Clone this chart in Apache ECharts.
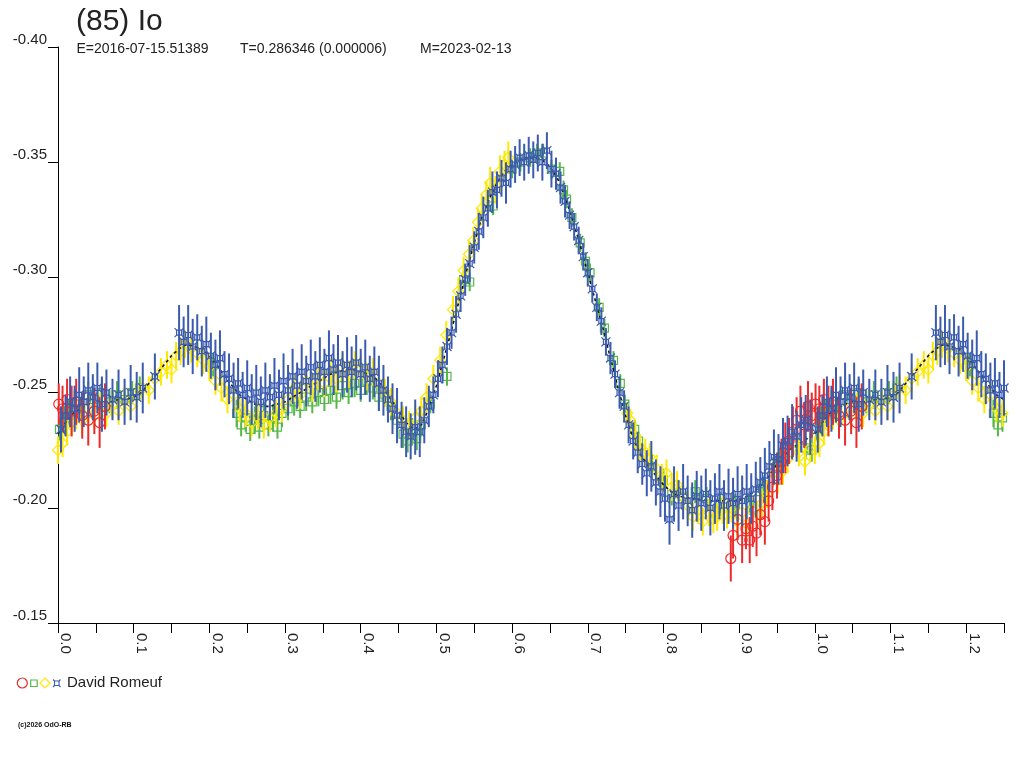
<!DOCTYPE html>
<html>
<head>
<meta charset="utf-8">
<script src="https://cdn.jsdelivr.net/npm/echarts@6/dist/echarts.min.js"></script>
<style>
html,body{margin:0;padding:0;background:#fff;}
#chart{width:1024px;height:768px;}
</style>
</head>
<body>
<div id="chart"></div>
<script>
// ---- data (phase, reduced magnitude, error) ----
const titleText = '(85) Io';
const epochText = 'E=2016-07-15.51389';
const periodText = 'T=0.286346 (0.000006)';
const modelText = 'M=2023-02-13';
const observerName = 'David Romeuf';
const copyrightText = '(c)2026 OdO-RB';

const xTicks = [0.0,0.1,0.2,0.3,0.4,0.5,0.6,0.7,0.8,0.9,1.0,1.1,1.2];
const yTicks = [-0.40,-0.35,-0.30,-0.25,-0.20,-0.15];

const fitPhase = [0.00,0.01,0.02,0.03,0.04,0.05,0.06,0.07,0.08,0.09,0.10,0.11,0.12,0.13,0.14,0.15,0.16,0.17,0.18,0.19,0.20,0.21,0.22,0.23,0.24,0.25,0.26,0.27,0.28,0.29,0.30,0.31,0.32,0.33,0.34,0.35,0.36,0.37,0.38,0.39,0.40,0.41,0.42,0.43,0.44,0.45,0.46,0.47,0.48,0.49,0.50,0.51,0.52,0.53,0.54,0.55,0.56,0.57,0.58,0.59,0.60,0.61,0.62,0.63,0.64,0.65,0.66,0.67,0.68,0.69,0.70,0.71,0.72,0.73,0.74,0.75,0.76,0.77,0.78,0.79,0.80,0.81,0.82,0.84,0.86,0.88,0.90,0.91,0.92,0.93,0.94,0.95,0.96,0.97,0.98,0.99,1.00];
const fitMag = [-0.232,-0.237,-0.241,-0.243,-0.245,-0.246,-0.246,-0.246,-0.247,-0.247,-0.248,-0.250,-0.254,-0.258,-0.262,-0.266,-0.269,-0.271,-0.270,-0.269,-0.266,-0.262,-0.257,-0.253,-0.249,-0.247,-0.245,-0.244,-0.244,-0.245,-0.246,-0.248,-0.250,-0.252,-0.254,-0.256,-0.258,-0.259,-0.260,-0.260,-0.259,-0.258,-0.256,-0.252,-0.247,-0.242,-0.237,-0.234,-0.236,-0.243,-0.253,-0.265,-0.277,-0.290,-0.303,-0.315,-0.326,-0.334,-0.341,-0.346,-0.349,-0.351,-0.352,-0.352,-0.351,-0.348,-0.343,-0.335,-0.325,-0.314,-0.302,-0.290,-0.278,-0.265,-0.252,-0.240,-0.230,-0.223,-0.218,-0.214,-0.210,-0.207,-0.205,-0.204,-0.203,-0.203,-0.203,-0.205,-0.207,-0.210,-0.214,-0.219,-0.223,-0.226,-0.228,-0.230,-0.232];

const redObs = [
[0.001,-0.245,0.009],[0.006,-0.243,0.010],[0.012,-0.247,0.009],[0.018,-0.242,0.011],[0.024,-0.246,0.010],
[0.032,-0.240,0.010],[0.040,-0.238,0.011],[0.048,-0.242,0.010],[0.055,-0.237,0.011],[0.062,-0.244,0.010],
[0.889,-0.178,0.010],[0.892,-0.188,0.010],[0.898,-0.195,0.009],[0.904,-0.186,0.010],[0.909,-0.191,0.009],
[0.914,-0.186,0.010],[0.918,-0.192,0.009],[0.923,-0.189,0.010],[0.928,-0.197,0.009],[0.934,-0.194,0.010],
[0.939,-0.203,0.009],[0.944,-0.209,0.010],[0.950,-0.214,0.010],[0.956,-0.220,0.010],[0.961,-0.226,0.011],
[0.966,-0.229,0.010],[0.971,-0.233,0.011],[0.976,-0.238,0.010],[0.981,-0.242,0.011],[0.986,-0.236,0.010],
[0.991,-0.244,0.011],[0.996,-0.240,0.010]
];

const greenObs = [
[0.002,-0.234,0.005],[0.008,-0.238,0.006],[0.014,-0.242,0.005],[0.022,-0.245,0.006],[0.030,-0.243,0.005],
[0.040,-0.249,0.006],[0.048,-0.247,0.005],[0.058,-0.250,0.006],[0.068,-0.246,0.005],[0.078,-0.249,0.006],
[0.088,-0.247,0.005],[0.098,-0.250,0.005],[0.108,-0.252,0.005],[0.205,-0.262,0.005],
[0.236,-0.241,0.006],[0.242,-0.236,0.005],[0.248,-0.239,0.006],[0.254,-0.234,0.005],[0.260,-0.238,0.006],
[0.266,-0.235,0.005],[0.272,-0.240,0.006],[0.278,-0.236,0.005],[0.284,-0.239,0.006],[0.290,-0.235,0.005],
[0.296,-0.241,0.006],[0.304,-0.243,0.005],[0.312,-0.246,0.006],[0.320,-0.244,0.005],[0.328,-0.248,0.006],
[0.336,-0.246,0.005],[0.344,-0.250,0.006],[0.352,-0.247,0.005],[0.360,-0.251,0.006],[0.368,-0.248,0.005],
[0.376,-0.253,0.006],[0.384,-0.250,0.005],[0.392,-0.254,0.006],[0.400,-0.251,0.005],[0.408,-0.255,0.006],
[0.416,-0.252,0.005],[0.424,-0.248,0.006],[0.432,-0.249,0.005],[0.440,-0.244,0.006],[0.448,-0.238,0.005],
[0.456,-0.232,0.006],[0.462,-0.229,0.005],[0.468,-0.233,0.006],[0.474,-0.230,0.005],[0.480,-0.236,0.005],
[0.492,-0.245,0.004],[0.514,-0.257,0.004],[0.536,-0.299,0.004],[0.544,-0.298,0.004],[0.575,-0.331,0.004],
[0.600,-0.347,0.004],[0.611,-0.350,0.004],[0.624,-0.352,0.004],[0.633,-0.354,0.004],[0.641,-0.354,0.004],
[0.652,-0.347,0.004],[0.663,-0.346,0.004],[0.668,-0.338,0.004],[0.672,-0.334,0.004],[0.679,-0.326,0.004],
[0.690,-0.315,0.004],[0.697,-0.307,0.004],[0.703,-0.302,0.004],[0.715,-0.287,0.004],[0.722,-0.278,0.004],
[0.734,-0.264,0.004],[0.743,-0.254,0.004],[0.749,-0.245,0.004],[0.762,-0.234,0.004],[0.767,-0.229,0.004],
[0.785,-0.218,0.005],[0.800,-0.212,0.005],[0.811,-0.206,0.005],[0.826,-0.205,0.005],[0.842,-0.207,0.005],
[0.857,-0.204,0.005],[0.875,-0.202,0.005],[0.895,-0.201,0.005],[0.914,-0.202,0.005],[0.928,-0.207,0.005],
[0.932,-0.209,0.005],[0.945,-0.217,0.005],[0.954,-0.220,0.005],[0.966,-0.224,0.005],[0.977,-0.228,0.005],
[0.988,-0.226,0.005],[0.996,-0.225,0.005]
];

const yellowObs = [
[0.000,-0.225,0.006],[0.006,-0.228,0.006],[0.012,-0.233,0.006],[0.018,-0.237,0.006],[0.024,-0.240,0.006],
[0.032,-0.238,0.006],[0.040,-0.243,0.006],[0.048,-0.240,0.006],[0.056,-0.244,0.006],[0.064,-0.241,0.006],
[0.072,-0.245,0.006],[0.080,-0.242,0.006],[0.088,-0.246,0.006],[0.096,-0.244,0.006],[0.104,-0.249,0.006],
[0.112,-0.252,0.006],[0.120,-0.251,0.006],[0.128,-0.256,0.006],[0.136,-0.259,0.006],[0.144,-0.262,0.006],
[0.150,-0.260,0.006],[0.156,-0.266,0.006],[0.162,-0.268,0.006],[0.168,-0.271,0.006],[0.176,-0.269,0.006],
[0.184,-0.267,0.006],[0.192,-0.264,0.006],[0.200,-0.261,0.006],[0.208,-0.255,0.006],[0.216,-0.252,0.006],
[0.224,-0.247,0.006],[0.232,-0.249,0.006],[0.240,-0.243,0.006],[0.248,-0.241,0.006],[0.256,-0.237,0.006],
[0.264,-0.240,0.006],[0.272,-0.236,0.006],[0.280,-0.239,0.006],[0.288,-0.241,0.006],[0.296,-0.243,0.006],
[0.304,-0.247,0.006],[0.312,-0.252,0.006],[0.320,-0.249,0.006],[0.328,-0.255,0.006],[0.336,-0.252,0.006],
[0.344,-0.257,0.006],[0.352,-0.254,0.006],[0.360,-0.259,0.006],[0.368,-0.256,0.006],[0.376,-0.261,0.006],
[0.384,-0.258,0.006],[0.392,-0.262,0.006],[0.400,-0.260,0.006],[0.408,-0.257,0.006],[0.416,-0.259,0.006],
[0.424,-0.254,0.006],[0.432,-0.250,0.006],[0.440,-0.246,0.006],[0.448,-0.241,0.006],[0.456,-0.238,0.006],
[0.464,-0.236,0.006],[0.472,-0.239,0.006],[0.480,-0.242,0.006],[0.487,-0.248,0.006],[0.496,-0.256,0.006],
[0.505,-0.264,0.006],[0.513,-0.275,0.006],[0.522,-0.286,0.006],[0.529,-0.294,0.006],[0.536,-0.303,0.006],
[0.543,-0.310,0.006],[0.549,-0.316,0.006],[0.555,-0.324,0.006],[0.560,-0.330,0.006],[0.566,-0.336,0.006],
[0.571,-0.341,0.007],[0.578,-0.338,0.006],[0.584,-0.346,0.007],[0.590,-0.349,0.006],[0.595,-0.352,0.007],
[0.752,-0.241,0.005],[0.756,-0.238,0.005],[0.763,-0.231,0.006],[0.769,-0.226,0.006],[0.776,-0.224,0.006],
[0.782,-0.222,0.006],[0.791,-0.217,0.006],[0.798,-0.213,0.006],[0.804,-0.215,0.006],[0.811,-0.209,0.006],
[0.818,-0.210,0.006],[0.825,-0.205,0.006],[0.832,-0.201,0.006],[0.839,-0.196,0.006],[0.846,-0.199,0.006],
[0.852,-0.194,0.006],[0.860,-0.198,0.006],[0.866,-0.195,0.006],[0.871,-0.196,0.006],[0.878,-0.199,0.006],
[0.884,-0.197,0.006],[0.890,-0.200,0.006],[0.897,-0.194,0.006],[0.904,-0.198,0.006],[0.910,-0.193,0.006],
[0.917,-0.199,0.006],[0.924,-0.197,0.006],[0.930,-0.202,0.006],[0.937,-0.206,0.006],[0.945,-0.215,0.006],
[0.951,-0.212,0.006],[0.958,-0.216,0.006],[0.964,-0.221,0.006],[0.971,-0.228,0.006],[0.979,-0.224,0.006],
[0.987,-0.220,0.006],[0.994,-0.226,0.006]
];

const blueObs = [
[0.004,-0.234,0.010],[0.010,-0.240,0.009],[0.016,-0.246,0.011],[0.022,-0.243,0.010],[0.028,-0.249,0.012],
[0.034,-0.246,0.011],[0.040,-0.251,0.012],[0.046,-0.248,0.010],[0.052,-0.252,0.011],[0.058,-0.245,0.012],
[0.064,-0.250,0.010],[0.072,-0.247,0.009],[0.080,-0.249,0.011],[0.088,-0.246,0.010],[0.096,-0.250,0.012],
[0.104,-0.248,0.011],[0.112,-0.252,0.011],[0.128,-0.257,0.010],[0.160,-0.276,0.012],[0.166,-0.272,0.011],
[0.172,-0.275,0.013],[0.178,-0.270,0.012],[0.184,-0.274,0.010],[0.190,-0.268,0.011],[0.196,-0.271,0.012],
[0.202,-0.266,0.010],[0.208,-0.262,0.011],[0.214,-0.265,0.012],[0.220,-0.258,0.010],[0.226,-0.256,0.011],
[0.232,-0.251,0.012],[0.238,-0.254,0.011],[0.244,-0.249,0.010],[0.250,-0.252,0.012],[0.256,-0.247,0.011],
[0.262,-0.250,0.012],[0.268,-0.246,0.011],[0.274,-0.251,0.012],[0.280,-0.248,0.010],[0.286,-0.253,0.012],
[0.292,-0.249,0.011],[0.298,-0.255,0.012],[0.304,-0.251,0.011],[0.310,-0.257,0.012],[0.316,-0.253,0.010],
[0.322,-0.259,0.012],[0.328,-0.255,0.011],[0.334,-0.261,0.012],[0.340,-0.257,0.011],[0.346,-0.262,0.012],
[0.352,-0.259,0.010],[0.358,-0.265,0.012],[0.364,-0.260,0.011],[0.370,-0.263,0.012],[0.376,-0.258,0.010],
[0.382,-0.262,0.012],[0.388,-0.259,0.011],[0.394,-0.263,0.012],[0.400,-0.258,0.011],[0.406,-0.261,0.012],
[0.412,-0.256,0.010],[0.418,-0.259,0.011],[0.424,-0.254,0.012],[0.430,-0.251,0.011],[0.436,-0.247,0.010],
[0.442,-0.243,0.011],[0.448,-0.240,0.012],[0.454,-0.236,0.010],[0.460,-0.233,0.011],[0.466,-0.231,0.010],
[0.472,-0.235,0.012],[0.478,-0.233,0.011],[0.484,-0.238,0.010],[0.490,-0.244,0.009],[0.496,-0.249,0.008],
[0.502,-0.256,0.008],[0.508,-0.262,0.008],[0.514,-0.270,0.008],[0.520,-0.276,0.007],[0.526,-0.284,0.008],
[0.532,-0.292,0.007],[0.538,-0.299,0.007],[0.544,-0.306,0.008],[0.550,-0.313,0.007],[0.556,-0.320,0.008],
[0.562,-0.326,0.009],[0.568,-0.330,0.008],[0.574,-0.337,0.009],[0.580,-0.338,0.008],[0.586,-0.343,0.008],
[0.592,-0.341,0.009],[0.598,-0.347,0.008],[0.604,-0.349,0.008],[0.610,-0.352,0.008],[0.616,-0.350,0.008],
[0.622,-0.353,0.008],[0.628,-0.351,0.008],[0.634,-0.354,0.008],[0.640,-0.350,0.008],[0.646,-0.355,0.008],
[0.652,-0.347,0.008],[0.658,-0.345,0.007],[0.664,-0.339,0.007],[0.670,-0.333,0.007],[0.676,-0.327,0.006],
[0.682,-0.322,0.006],[0.688,-0.316,0.006],[0.694,-0.309,0.006],[0.700,-0.302,0.006],[0.706,-0.295,0.006],
[0.712,-0.287,0.006],[0.718,-0.281,0.006],[0.724,-0.272,0.006],[0.730,-0.265,0.007],[0.736,-0.258,0.006],
[0.742,-0.250,0.007],[0.748,-0.244,0.007],[0.754,-0.236,0.008],[0.760,-0.229,0.008],[0.766,-0.224,0.009],
[0.772,-0.219,0.009],[0.778,-0.215,0.010],[0.784,-0.218,0.011],[0.790,-0.211,0.010],[0.796,-0.207,0.011],
[0.802,-0.204,0.010],[0.808,-0.195,0.011],[0.814,-0.206,0.012],[0.820,-0.201,0.011],[0.826,-0.207,0.012],
[0.832,-0.203,0.011],[0.838,-0.199,0.012],[0.844,-0.205,0.011],[0.850,-0.202,0.012],[0.856,-0.206,0.011],
[0.862,-0.200,0.012],[0.868,-0.204,0.011],[0.874,-0.207,0.012],[0.880,-0.201,0.011],[0.886,-0.205,0.012],
[0.892,-0.202,0.011],[0.898,-0.206,0.012],[0.904,-0.203,0.011],[0.910,-0.207,0.012],[0.916,-0.204,0.011],
[0.922,-0.208,0.012],[0.928,-0.211,0.011],[0.934,-0.214,0.012],[0.940,-0.218,0.011],[0.946,-0.222,0.012],
[0.952,-0.221,0.011],[0.958,-0.227,0.012],[0.964,-0.229,0.011],[0.970,-0.233,0.012],[0.976,-0.231,0.011],
[0.982,-0.236,0.012],[0.988,-0.238,0.011],[0.994,-0.235,0.012]
];

// ---- build (phase folding: repeat the first quarter after phase 1) ----
const PHASE_MAX = 1.25;
function fold(obs) {
  const out = obs.map(d => d.slice());
  obs.forEach(d => { if (d[0] + 1 <= PHASE_MAX) out.push([d[0] + 1, d[1], d[2]]); });
  return out;
}
const fitData = fitPhase.map((p, i) => [p, fitMag[i]]);
fitPhase.forEach((p, i) => { if (p > 0 && p + 1 <= PHASE_MAX) fitData.push([p + 1, fitMag[i]]); });

const COLORS = { red: '#ee2a2a', green: '#55b848', yellow: '#ffe800', blue: '#3a5bb0' };
const FONT = "'Liberation Sans', Arial, sans-serif";

function markerShape(kind, cx, cy, color) {
  const st = { stroke: color, fill: 'none', lineWidth: 1.2 };
  if (kind === 'circle') return { type: 'circle', shape: { cx: cx, cy: cy, r: 5 }, style: st };
  if (kind === 'square') return { type: 'rect', shape: { x: cx - 4, y: cy - 4, width: 8, height: 8 }, style: st };
  if (kind === 'diamond') return { type: 'polygon', shape: { points: [[cx, cy - 5.5], [cx + 5.5, cy], [cx, cy + 5.5], [cx - 5.5, cy]] }, style: st };
  const a = 2.5, b = 4.5;
  return { type: 'group', children: [
    { type: 'rect', shape: { x: cx - a, y: cy - a, width: 2 * a, height: 2 * a }, style: st },
    { type: 'line', shape: { x1: cx - a, y1: cy - a, x2: cx - b, y2: cy - b }, style: st },
    { type: 'line', shape: { x1: cx + a, y1: cy - a, x2: cx + b, y2: cy - b }, style: st },
    { type: 'line', shape: { x1: cx - a, y1: cy + a, x2: cx - b, y2: cy + b }, style: st },
    { type: 'line', shape: { x1: cx + a, y1: cy + a, x2: cx + b, y2: cy + b }, style: st }
  ]};
}
function obsSeries(name, obs, kind, color, z) {
  return {
    name: name, type: 'custom', z: z, clip: false,
    data: fold(obs),
    encode: { x: 0, y: 1 },
    renderItem: function (params, api) {
      const x = api.value(0), y = api.value(1), e = api.value(2);
      const p = api.coord([x, y]);
      const p1 = api.coord([x, y - e]);
      const p2 = api.coord([x, y + e]);
      return { type: 'group', children: [
        { type: 'line', shape: { x1: p[0], y1: p1[1], x2: p[0], y2: p2[1] }, style: { stroke: color, lineWidth: 2 } },
        markerShape(kind, p[0], p[1], color)
      ]};
    }
  };
}

const chart = echarts.init(document.getElementById('chart'), null, { renderer: 'canvas' });
const option = {
  animation: false,
  backgroundColor: '#fff',
  textStyle: { fontFamily: FONT },
  grid: { left: 58, right: 20, top: 47, bottom: 145, containLabel: false },
  xAxis: {
    type: 'value', min: 0, max: PHASE_MAX, interval: 0.05,
    axisLine: { onZero: false, lineStyle: { color: '#000', width: 1 } },
    axisTick: { show: true, length: 10, lineStyle: { color: '#000' } },
    splitLine: { show: false },
    axisLabel: {
      rotate: -90, margin: 10, align: 'left', verticalAlign: 'bottom', interval: 0,
      color: '#222', fontSize: 15, fontFamily: FONT,
      showMaxLabel: true, showMinLabel: true,
      formatter: function (v) {
        const t = xTicks.find(x => Math.abs(x - v) < 1e-6);
        return t === undefined ? '' : t.toFixed(1);
      }
    }
  },
  yAxis: {
    type: 'value', inverse: true, min: yTicks[0], max: yTicks[yTicks.length - 1], interval: 0.05,
    axisLine: { show: true, onZero: false, lineStyle: { color: '#000', width: 1 } },
    axisTick: { show: true, length: 10, lineStyle: { color: '#000' } },
    splitLine: { show: false },
    axisLabel: {
      margin: 11, verticalAlign: 'bottom', color: '#222', fontSize: 15, fontFamily: FONT,
      formatter: function (v) { return v.toFixed(2); }
    }
  },
  series: [
    obsSeries('green', greenObs, 'square', COLORS.green, 2),
    obsSeries('yellow', yellowObs, 'diamond', COLORS.yellow, 3),
    {
      name: 'fit', type: 'line', z: 4, data: fitData, showSymbol: false, symbol: 'none',
      lineStyle: { color: '#111', width: 1.6, type: [3, 3] }
    },
    obsSeries('red', redObs, 'circle', COLORS.red, 5),
    obsSeries('blue', blueObs, 'blue', COLORS.blue, 6)
  ],
  graphic: [
    { type: 'text', left: 76, top: 7, style: { text: titleText, font: '30px ' + FONT, fill: '#222' } },
    { type: 'text', x: 76.5, y: 49, style: { text: epochText, font: '14px ' + FONT, fill: '#222', verticalAlign: 'middle' } },
    { type: 'text', x: 240, y: 49, style: { text: periodText, font: '14px ' + FONT, fill: '#222', verticalAlign: 'middle' } },
    { type: 'text', x: 420, y: 49, style: { text: modelText, font: '14px ' + FONT, fill: '#222', verticalAlign: 'middle' } },
    { type: 'circle', shape: { cx: 22.3, cy: 683, r: 5 }, style: { stroke: COLORS.red, fill: 'none', lineWidth: 1.2 } },
    { type: 'rect', shape: { x: 30.7, y: 680, width: 6.5, height: 6.5 }, style: { stroke: COLORS.green, fill: 'none', lineWidth: 1.2 } },
    { type: 'polygon', shape: { points: [[45, 678], [50, 683], [45, 688], [40, 683]] }, style: { stroke: COLORS.yellow, fill: 'none', lineWidth: 1.2 } },
    { type: 'rect', shape: { x: 54.5, y: 681, width: 4.5, height: 4.5 }, style: { stroke: COLORS.blue, fill: 'none', lineWidth: 1.1 } },
    { type: 'polyline', shape: { points: [[53, 679.5], [54.5, 681]] }, style: { stroke: COLORS.blue, lineWidth: 1.1 } },
    { type: 'polyline', shape: { points: [[60.5, 679.5], [59, 681]] }, style: { stroke: COLORS.blue, lineWidth: 1.1 } },
    { type: 'polyline', shape: { points: [[53, 687], [54.5, 685.5]] }, style: { stroke: COLORS.blue, lineWidth: 1.1 } },
    { type: 'polyline', shape: { points: [[60.5, 687], [59, 685.5]] }, style: { stroke: COLORS.blue, lineWidth: 1.1 } },
    { type: 'text', x: 67, y: 683, style: { text: observerName, font: '15px ' + FONT, fill: '#222', verticalAlign: 'middle' } },
    { type: 'text', x: 18, y: 725, style: { text: copyrightText, font: 'bold 7px ' + FONT, fill: '#111', verticalAlign: 'middle' } }
  ]
};
chart.setOption(option);
</script>
</body>
</html>
